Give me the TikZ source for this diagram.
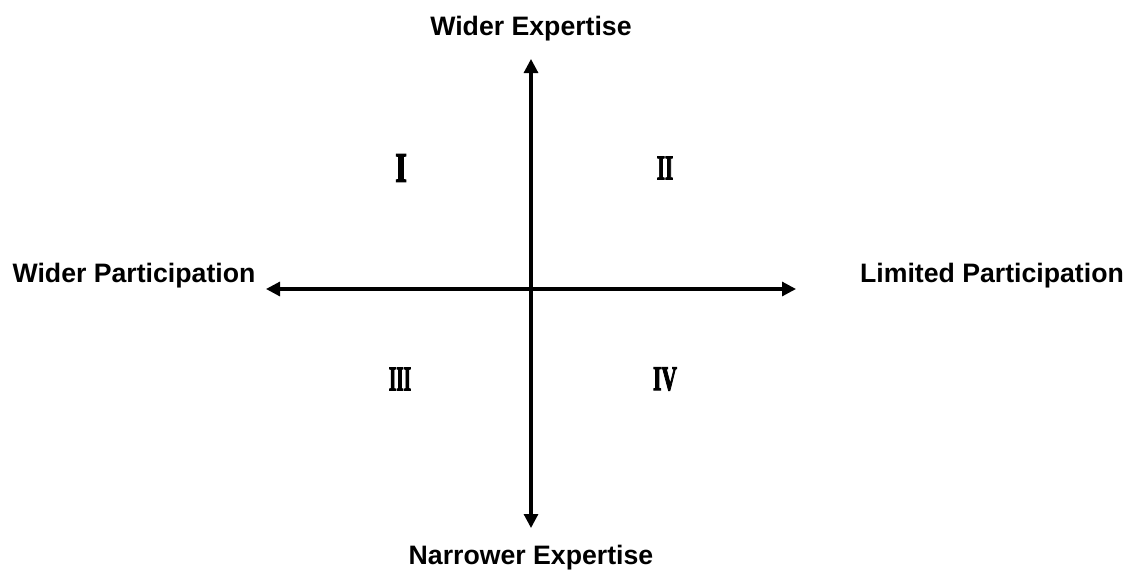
\documentclass[tikz,border=0pt]{standalone}
\usepackage{fontspec}
\setsansfont{Liberation Sans}
\newfontfamily\numfont[UprightFont={* Bold}]{Liberation Serif}
\usetikzlibrary{arrows.meta}
\newcommand{\heavy}[1]{\special{pdf:literal 2 Tr 0.9 w}#1\special{pdf:literal 0 Tr}}
\tikzset{
  axis/.style={line width=2.3pt, {Triangle[length=10.5pt,width=10.5pt]}-{Triangle[length=10.5pt,width=10.5pt]}},
  lbl/.style={font=\sffamily\fontsize{20pt}{24pt}\selectfont\bfseries, inner sep=0pt, anchor=base},
  num/.style={font=\numfont\fontsize{26pt}{30pt}\selectfont, inner sep=0pt}
}
\begin{document}
\begin{tikzpicture}[x=0.75pt,y=-0.75pt]
\useasboundingbox (0,0) rectangle (1129,569);
\coordinate (top) at (531,59);
\coordinate (bot) at (531,528);
\coordinate (lft) at (266,289);
\coordinate (rgt) at (796,289);
\draw[axis] (top) -- (bot);
\draw[axis] (lft) -- (rgt);
\node[lbl] (we) at (531,35) {Wider Expertise};
\node[lbl] (ne) at (531,564) {Narrower Expertise};
\node[lbl] (wp) at (134,282) {Wider Participation};
\node[lbl] (lp) at (992,282) {Limited Participation};
\node[num] (q1) at (401,168) {\scalebox{0.85}[1.2]{\heavy{I}}};
\node[num] (q2) at (665,168) {\scalebox{0.6}[1]{\heavy{II}}};
\node[num] (q3) at (400,379) {\scalebox{0.55}[1]{\heavy{III}}};
\node[num] (q4) at (665,379) {\scalebox{0.62}[1]{\heavy{IV}}};
\end{tikzpicture}
\end{document}
